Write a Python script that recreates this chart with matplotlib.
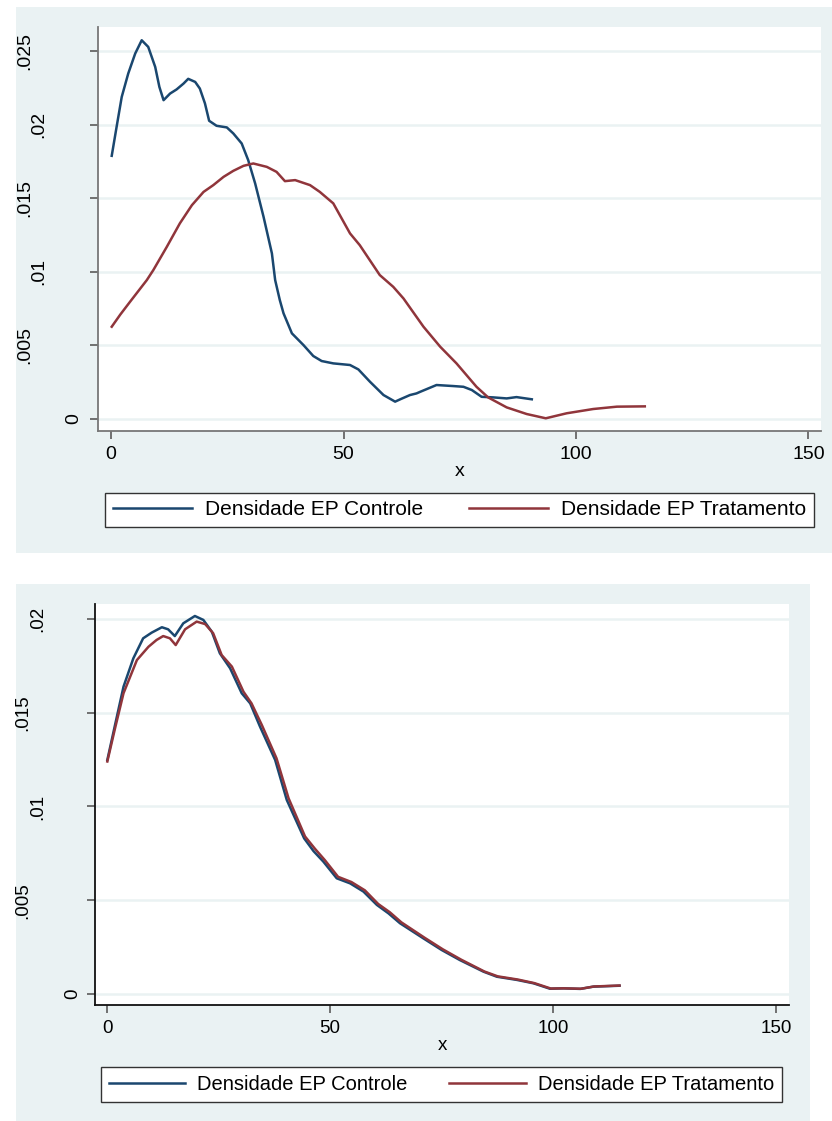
import matplotlib.pyplot as plt
from matplotlib.patches import Rectangle

plt.rcParams['font.family'] = ['Liberation Sans', 'DejaVu Sans']

BG = '#EAF2F3'
BLUE = '#1A476F'
RED = '#90353B'

# top panel - Controle
top_ctrl_x = [0.15, 1.2, 2.3, 3.7, 5.2, 6.6, 8.0, 9.5, 10.4, 11.3, 12.7, 14.1, 15.6, 16.6,
              18.1, 19.1, 20.2, 21.1, 22.7, 24.9, 26.3, 28.1, 29.5, 31.0, 32.8, 34.6, 35.3,
              36.3, 37.1, 38.9, 41.4, 43.5, 45.3, 47.8, 51.4, 53.2, 55.7, 58.6, 61.1, 62.2,
              64.3, 65.7, 66.5, 70.0, 73.6, 75.8, 77.6, 79.7, 82.2, 85.1, 87.2, 90.5]
top_ctrl_y = [0.01788, 0.01985, 0.02188, 0.02347, 0.02483, 0.02573, 0.02528, 0.02392, 0.02256,
              0.02166, 0.02211, 0.02239, 0.02279, 0.02311, 0.02290, 0.02245, 0.02144, 0.02026,
              0.01992, 0.01981, 0.01940, 0.01872, 0.01759, 0.01600, 0.01374, 0.01125, 0.00944,
              0.00808, 0.00718, 0.00582, 0.00502, 0.00428, 0.00394, 0.00378, 0.00367, 0.00337,
              0.00253, 0.00163, 0.00118, 0.00134, 0.00163, 0.00174, 0.00185, 0.00231, 0.00224,
              0.00219, 0.00197, 0.00151, 0.00147, 0.00140, 0.00149, 0.00134]

# top panel - Tratamento
top_trat_x = [0.15, 2.0, 4.1, 7.7, 9.1, 12.0, 14.8, 17.4, 19.9, 22.0, 24.2, 26.3, 28.5, 30.6,
              33.5, 35.6, 37.4, 39.6, 42.8, 44.9, 47.8, 51.4, 53.5, 57.8, 60.7, 62.9, 67.2,
              70.8, 74.3, 78.6, 81.1, 85.1, 89.4, 93.5, 98.0, 103.7, 108.8, 114.8]
top_trat_y = [0.00627, 0.00710, 0.00797, 0.00944, 0.01012, 0.01170, 0.01329, 0.01453, 0.01543,
              0.01589, 0.01645, 0.01686, 0.01720, 0.01736, 0.01713, 0.01679, 0.01616, 0.01623,
              0.01589, 0.01543, 0.01465, 0.01261, 0.01181, 0.00978, 0.00898, 0.00819, 0.00627,
              0.00491, 0.00378, 0.00219, 0.00147, 0.00079, 0.00034, 0.00005, 0.00039, 0.00068,
              0.00084, 0.00086]

# bottom panel - Controle
bot_ctrl_x = [0.07, 1.8, 3.7, 5.9, 8.1, 10.0, 12.3, 13.7, 15.2, 17.1, 19.7, 21.6, 23.5, 25.3,
              27.6, 30.2, 32.1, 34.3, 37.7, 40.3, 44.2, 46.3, 48.5, 51.5, 54.5, 57.5, 60.5,
              63.1, 65.7, 70.9, 75.0, 79.1, 84.4, 87.4, 91.9, 95.6, 99.3, 102.3, 106.1, 109.0,
              114.9]
bot_ctrl_y = [0.01248, 0.01435, 0.01639, 0.01790, 0.01897, 0.01927, 0.01956, 0.01945, 0.01909,
              0.01977, 0.02016, 0.01995, 0.01932, 0.01817, 0.01737, 0.01604, 0.01550, 0.01426,
              0.01248, 0.01035, 0.00830, 0.00762, 0.00706, 0.00617, 0.00590, 0.00546, 0.00475,
              0.00430, 0.00377, 0.00297, 0.00235, 0.00181, 0.00119, 0.00092, 0.00075, 0.00057,
              0.00028, 0.00030, 0.00027, 0.00039, 0.00044]

# bottom panel - Tratamento
bot_trat_x = [0.07, 1.8, 3.7, 6.7, 9.3, 11.1, 12.6, 14.1, 15.4, 17.5, 20.1, 22.0, 23.8, 25.7,
              28.0, 30.6, 32.4, 34.7, 38.0, 40.7, 44.4, 46.6, 48.8, 51.8, 54.8, 57.8, 60.8,
              63.4, 66.0, 71.2, 75.3, 79.4, 84.6, 87.6, 92.1, 95.8, 99.5, 102.5, 106.3, 109.2,
              114.9]
bot_trat_y = [0.01240, 0.01417, 0.01604, 0.01781, 0.01852, 0.01888, 0.01909, 0.01897, 0.01861,
              0.01945, 0.01986, 0.01973, 0.01924, 0.01808, 0.01746, 0.01612, 0.01550, 0.01435,
              0.01257, 0.01044, 0.00840, 0.00775, 0.00715, 0.00625, 0.00597, 0.00553, 0.00480,
              0.00436, 0.00382, 0.00300, 0.00238, 0.00183, 0.00120, 0.00094, 0.00077, 0.00058,
              0.00029, 0.00030, 0.00028, 0.00040, 0.00045]

xticks = [0, 50, 100, 150]
xtick_labels = ['0', '50', '100', '150']
top_yticks = [0, 0.005, 0.01, 0.015, 0.02, 0.025]
top_ytick_labels = ['0', '.005', '.01', '.015', '.02', '.025']
bot_yticks = [0, 0.005, 0.01, 0.015, 0.02]
bot_ytick_labels = ['0', '.005', '.01', '.015', '.02']
legend_labels = ['Densidade EP Controle', 'Densidade EP Tratamento']

fig = plt.figure(figsize=(8.32, 11.21), dpi=100)
fig.add_artist(Rectangle((0.0192, 0.5067), 0.9808, 0.4871, transform=fig.transFigure,
                         facecolor=BG, edgecolor='none', zorder=-5))
fig.add_artist(Rectangle((0.0192, 0.0), 0.9543, 0.4790, transform=fig.transFigure,
                         facecolor=BG, edgecolor='none', zorder=-5))


def draw_panel(rect, series, yticks, ylabels, xlim, ylim, spine_col, yoff, leg_rect, fs, lfs):
    ax = fig.add_axes(rect)
    ax.set_facecolor('white')
    lines = []
    for xs, ys, col in series:
        ln, = ax.plot(xs, ys, color=col, lw=1.8, solid_joinstyle='round')
        lines.append(ln)
    ax.set_xlim(*xlim)
    ax.set_ylim(*ylim)
    ax.set_xticks(xticks)
    ax.set_xticklabels(xtick_labels)
    ax.set_yticks(yticks)
    ax.tick_params(labelleft=False)
    for y in yticks:
        ax.axhline(y, color=BG, lw=1.8, zorder=0)
    for s in ['top', 'right']:
        ax.spines[s].set_visible(False)
    for s in ['left', 'bottom']:
        ax.spines[s].set_color(spine_col)
        ax.spines[s].set_linewidth(1.3)
    ax.tick_params(axis='both', length=6, width=1.3, color='#666666', direction='out')
    ax.tick_params(axis='x', labelsize=fs, pad=5)
    # Stata-style rotated y labels
    for y, lab in zip(yticks, ylabels):
        ax.annotate(lab, xy=(0, y), xycoords=('axes fraction', 'data'),
                    xytext=(-yoff[len(lab)] * 0.72, 0), textcoords='offset points',
                    rotation=90, ha='center', va='center', fontsize=fs)
    ax.set_xlabel('x', fontsize=fs, labelpad=0)
    leg = fig.legend(lines, legend_labels, loc='center', bbox_to_anchor=leg_rect,
                     bbox_transform=fig.transFigure, mode='expand', ncol=2, fontsize=lfs,
                     frameon=True, fancybox=False, framealpha=1, edgecolor='#333333',
                     borderaxespad=0, borderpad=0.38, handlelength=3.8, handletextpad=0.6)
    leg.get_frame().set_linewidth(1.0)
    return ax


draw_panel([0.1178, 0.6155, 0.8690, 0.3604],
           [(top_ctrl_x, top_ctrl_y, BLUE), (top_trat_x, top_trat_y, RED)],
           top_yticks, top_ytick_labels, (-2.8, 152.7), (-0.000815, 0.02663),
           '#777777', {1: 24, 3: 59, 4: 73}, (0.1262, 0.5290, 0.8522, 0.0321), 14, 15)

draw_panel([0.1142, 0.1035, 0.8341, 0.3577],
           [(bot_ctrl_x, bot_ctrl_y, BLUE), (bot_trat_x, bot_trat_y, RED)],
           bot_yticks, bot_ytick_labels, (-2.69, 152.9), (-0.000587, 0.0208),
           '#111111', {1: 22.5, 3: 57.5, 4: 72.5}, (0.1214, 0.01695, 0.8185, 0.0312), 13.5, 14.5)

fig.savefig('out.png', dpi=100, facecolor='white')
